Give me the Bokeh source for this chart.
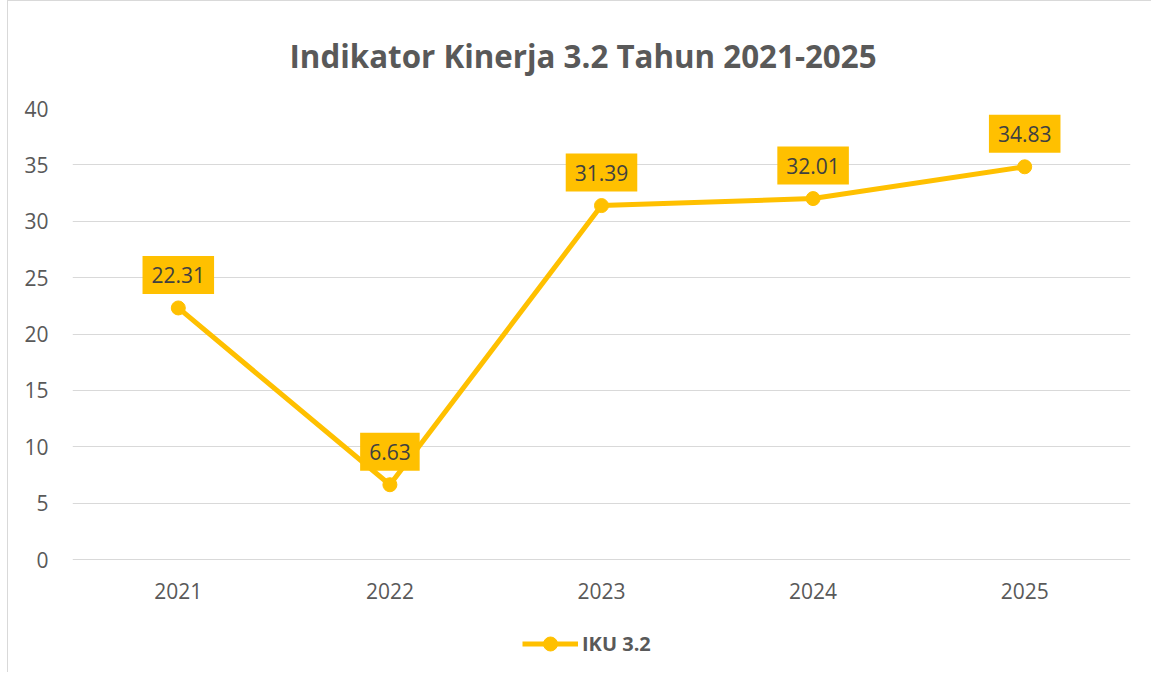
from bokeh.plotting import figure
from bokeh.models import Label, FactorRange, Range1d, FixedTicker, Legend
from bokeh.embed import file_html
from bokeh.resources import INLINE

title_text = "Indikator Kinerja 3.2 Tahun 2021-2025"
series_name = "IKU 3.2"
years = ["2021", "2022", "2023", "2024", "2025"]
iku = [22.31, 6.63, 31.39, 32.01, 34.83]
y_ticks = [0, 5, 10, 15, 20, 25, 30, 35, 40]

GOLD = "#FFC000"
TXT = "#595959"
FONT = "Open Sans"

# y = 0..40 spans 451 px; frame extends below 0 to hold axis labels and legend
px_per_unit = 451 / 40
y_low = -(673 - 559) / px_per_unit

p = figure(width=1144, height=672,
           x_range=FactorRange(factors=years, range_padding=0),
           y_range=Range1d(y_low, 40),
           output_backend="svg", toolbar_location=None,
           min_border_left=64, min_border_right=22,
           min_border_top=107, min_border_bottom=0)
p.styles = {"margin-left": "7px", "margin-top": "0px",
            "border-left": "1px solid #d9d9d9", "border-top": "1px solid #d9d9d9"}
p.outline_line_color = None
p.background_fill_color = "white"
p.border_fill_color = "white"

p.title.text = title_text
p.title.align = "left"
p.title.offset = 217
p.title.standoff = 63
p.title.text_font = FONT
p.title.text_font_size = "31.3px"
p.title.text_font_style = "bold"
p.title.text_color = TXT

p.xgrid.grid_line_color = None
p.ygrid.grid_line_color = "#d9d9d9"
p.ygrid.grid_line_width = 1
p.yaxis.ticker = FixedTicker(ticks=y_ticks)
p.xaxis.fixed_location = 0

for ax in (p.xaxis[0], p.yaxis[0]):
    ax.axis_line_color = None
    ax.major_tick_line_color = None
    ax.minor_tick_line_color = None
    ax.major_label_text_font = FONT
    ax.major_label_text_font_size = "21px"
    ax.major_label_text_color = TXT
p.yaxis.major_label_standoff = 18
p.xaxis.major_label_standoff = 17

r_line = p.line(x=years, y=iku, line_width=5, color=GOLD)
r_pts = p.scatter(x=years, y=iku, size=14, color=GOLD)

for i, v in enumerate(iku):
    p.add_layout(Label(x=i + 0.5, y=v, text=f"{v:.2f}", text_align="center",
                       text_baseline="middle", y_offset=33,
                       text_font=FONT, text_font_size="21px", text_color="#404040",
                       background_fill_color=GOLD, padding=(9, 11)))

lg = Legend(items=[(series_name, [r_line, r_pts])])
lg.location = (450, 12)
lg.padding = 0
lg.margin = 0
lg.spacing = 0
lg.glyph_width = 56
lg.glyph_height = 35
lg.label_standoff = 4
lg.border_line_color = None
lg.background_fill_alpha = 0
lg.label_text_font = FONT
lg.label_text_font_size = "20px"
lg.label_text_font_style = "bold"
lg.label_text_color = TXT
p.add_layout(lg, "center")

open("out.html", "w").write(file_html(p, INLINE))
